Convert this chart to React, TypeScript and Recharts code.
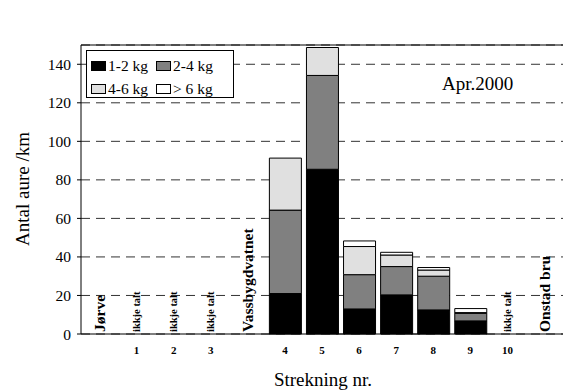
import { BarChart, Bar, XAxis, YAxis, CartesianGrid, ReferenceLine } from "recharts";

const categories = ["Jørve", "1", "2", "3", "Vassbygdvatnet", "4", "5", "6", "7", "8", "9", "10", "Onstad bru"];
const tickLabels = ["", "1", "2", "3", "", "4", "5", "6", "7", "8", "9", "10", ""];
const notes = ["Jørve", "ikkje talt", "ikkje talt", "ikkje talt", "Vassbygdvatnet", "", "", "", "", "", "", "ikkje talt", "Onstad bru"];

const kg1to2 = [null, null, null, null, null, 21, 85.5, 13, 20.3, 12.5, 6.8, null, null];
const kg2to4 = [null, null, null, null, null, 43.3, 48.7, 17.8, 14.7, 17.5, 3.9, null, null];
const kg4to6 = [null, null, null, null, null, 27, 14.5, 14.6, 6, 3.2, 0.4, null, null];
const kgOver6 = [null, null, null, null, null, null, null, 2.9, 1.4, 1.3, 2.1, null, null];

const yTicks = [0, 20, 40, 60, 80, 100, 120, 140];

const series = [
  { key: "a", name: "1-2 kg", fill: "#000000" },
  { key: "b", name: "2-4 kg", fill: "#808080" },
  { key: "c", name: "4-6 kg", fill: "#e0e0e0" },
  { key: "d", name: "> 6 kg", fill: "#ffffff" },
];

const data = categories.map((c, i) => ({
  cat: c,
  a: kg1to2[i],
  b: kg2to4[i],
  c: kg4to6[i],
  d: kgOver6[i],
}));

const serif = "Liberation Serif";

const CatTick = ({ x, y, index }: any) => {
  const note = notes[index];
  const small = note === "ikkje talt";
  const fs = small ? 10.5 : 15.5;
  return (
    <g>
      <text x={x} y={y + 20} textAnchor="middle" fontFamily={serif} fontWeight="bold" fontSize={11} fill="#000">
        {tickLabels[index]}
      </text>
      {note && (
        <text
          transform={`translate(${x + fs * 0.35},${y - 2}) rotate(-90)`}
          textAnchor="start"
          fontFamily={serif}
          fontWeight="bold"
          fontSize={fs}
          fill="#000"
        >
          {note}
        </text>
      )}
    </g>
  );
};

export default function App() {
  return (
    <div style={{ position: "absolute", left: 0, top: 0, width: 566, height: 390, background: "#fff", fontFamily: serif }}>
      <BarChart
        width={566}
        height={390}
        data={data}
        margin={{ top: 45, right: 3, left: 0, bottom: 0 }}
        barSize={32}
      >
        <CartesianGrid vertical={false} stroke="#333" strokeDasharray="9 6" />
        <XAxis
          dataKey="cat"
          interval={0}
          height={56}
          tickLine={false}
          tickSize={0}
          tickMargin={0}
          axisLine={{ stroke: "#000" }}
          tick={<CatTick />}
          label={{
            content: () => (
              <text x={323} y={386} textAnchor="middle" fontFamily={serif} fontSize={19} fill="#000">
                Strekning nr.
              </text>
            ),
          }}
        />
        <YAxis
          domain={[0, 150]}
          ticks={yTicks}
          width={81}
          tickSize={4}
          tickMargin={6}
          axisLine={{ stroke: "#000" }}
          tickLine={{ stroke: "#000" }}
          tick={{ fontSize: 15.5, fill: "#000", fontFamily: serif }}
          label={{
            content: () => (
              <text
                transform="translate(29,189) rotate(-90)"
                textAnchor="middle"
                fontFamily={serif}
                fontSize={19}
                fill="#000"
              >
                Antal aure /km
              </text>
            ),
          }}
        />
        <YAxis yAxisId="r" orientation="right" width={0} tick={false} axisLine={{ stroke: "#bbb" }} domain={[0, 150]} />
        <ReferenceLine y={150} stroke="#000" strokeWidth={1} />
        {series.map((s) => (
          <Bar
            key={s.key}
            dataKey={s.key}
            name={s.name}
            stackId="s"
            fill={s.fill}
            stroke="#000"
            strokeWidth={1}
            isAnimationActive={false}
          />
        ))}
      </BarChart>
      <div
        style={{
          position: "absolute",
          left: 86,
          top: 50,
          width: 146,
          height: 46,
          border: "1px solid #000",
          background: "#fff",
          fontSize: 15.5,
          fontFamily: serif,
          color: "#000",
        }}
      >
        {series.map((s, i) => (
          <div
            key={s.key}
            style={{
              position: "absolute",
              left: i % 2 === 0 ? 4 : 69,
              top: i < 2 ? 7 : 30,
              display: "flex",
              alignItems: "center",
              whiteSpace: "nowrap",
              lineHeight: "16px",
            }}
          >
            <span
              style={{
                display: "inline-block",
                width: 13,
                height: 8,
                background: s.fill,
                border: "1px solid #000",
                marginRight: 2,
              }}
            />
            {s.name}
          </div>
        ))}
      </div>
      <div style={{ position: "absolute", left: 442, top: 73, fontSize: 19, lineHeight: "22px", fontFamily: serif, color: "#000" }}>
        Apr.2000
      </div>
    </div>
  );
}
